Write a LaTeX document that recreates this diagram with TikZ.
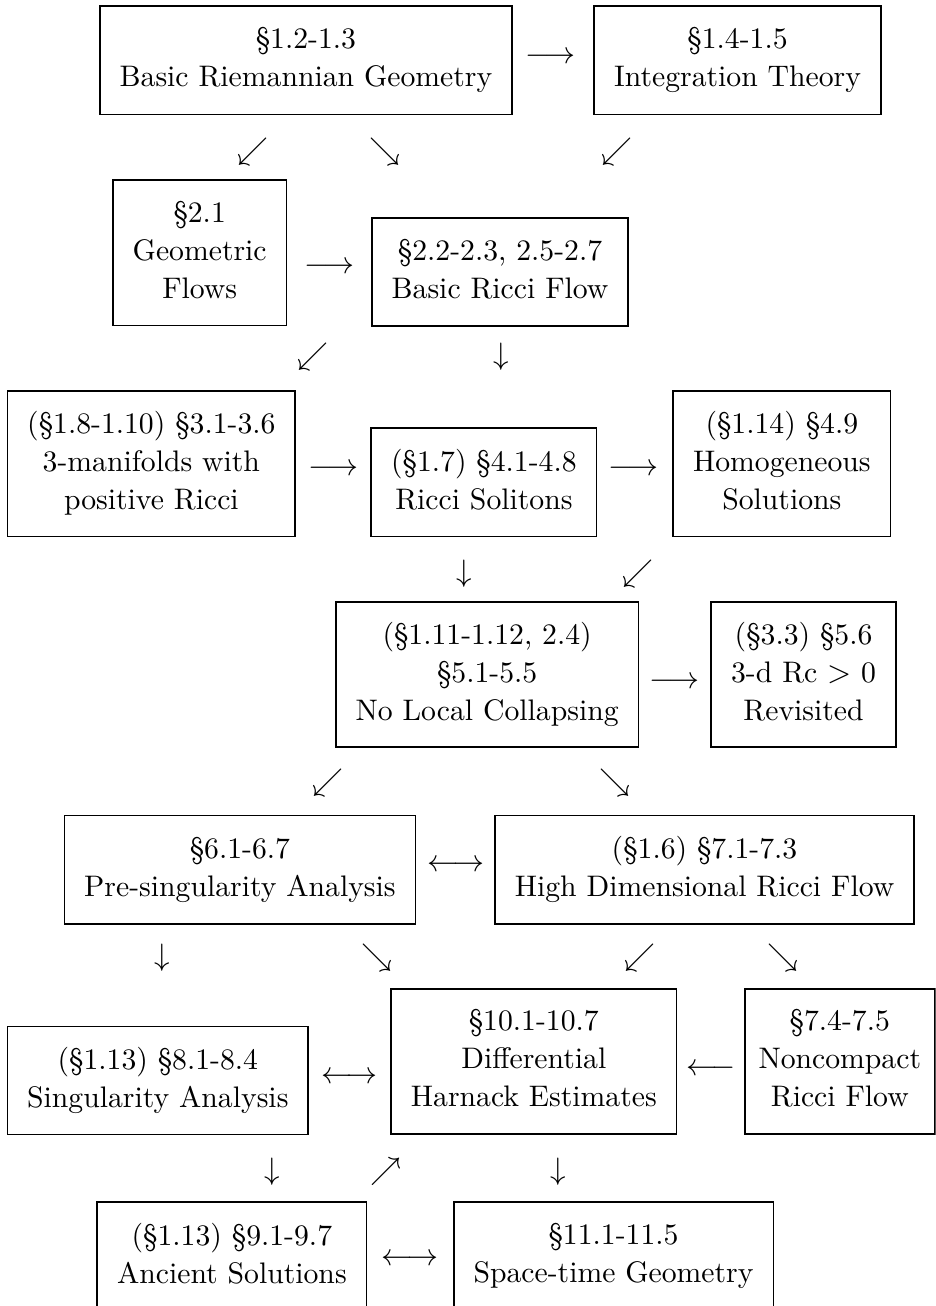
\documentclass[tikz,border=0pt]{standalone}
\usepackage{amsmath}

\tikzset{
  secbox/.style={draw, line width=0.6pt, align=center, inner xsep=7pt, inner ysep=0pt,
    font=\fontsize{10.5}{13.4}\selectfont,
    execute at begin node={\rule{0pt}{12.9pt}},
    execute at end node={\rule[-2.2pt]{0pt}{2.2pt}}},
  tworow/.style={secbox, minimum height=38.2pt},
  threerow/.style={secbox, minimum height=51.3pt},
  glyph/.style={inner sep=0pt, font=\fontsize{10.5}{12.6}\selectfont}
}

\begin{document}
\begin{tikzpicture}
        \useasboundingbox (0,0) rectangle (11.62,-16.22);
        \clip (0,0) rectangle (11.62,-16.22);

        % Draw the sections
        \node[tworow] (riem) at (3.80,-0.75) {\S1.2-1.3\\Basic Riemannian Geometry};
        \node[tworow] (integ) at (9.16,-0.75) {\S1.4-1.5\\Integration Theory};
        \node[threerow] (geoflow) at (2.48,-3.14) {\S2.1\\Geometric\\Flows};
        \node[tworow] (basicrf) at (6.21,-3.38) {\S2.2-2.3, 2.5-2.7\\Basic Ricci Flow};
        \node[threerow] (threemfd) at (1.88,-5.76) {(\S1.8-1.10) \S3.1-3.6\\3-manifolds with\\positive Ricci};
        \node[tworow] (soliton) at (6.01,-5.99) {(\S1.7) \S4.1-4.8\\Ricci Solitons};
        \node[threerow] (homog) at (9.71,-5.76) {(\S1.14) \S4.9\\Homogeneous\\Solutions};
        \node[threerow] (nlc) at (6.05,-8.38) {(\S1.11-1.12, 2.4)\\\S5.1-5.5\\No Local Collapsing};
        \node[threerow] (revisit) at (9.98,-8.38) {(\S3.3) \S5.6\\3-d Rc $>$ 0\\Revisited};
        \node[tworow] (presing) at (2.98,-10.80) {\S6.1-6.7\\Pre-singularity Analysis};
        \node[tworow] (highdim) at (8.75,-10.80) {(\S1.6) \S7.1-7.3\\High Dimensional Ricci Flow};
        \node[threerow] (harnack) at (6.63,-13.18) {\S10.1-10.7\\Differential\\Harnack Estimates};
        \node[tworow] (sing) at (1.96,-13.42) {(\S1.13) \S8.1-8.4\\Singularity Analysis};
        \node[threerow, inner xsep=4.8pt] (noncpt) at (10.43,-13.18) {\S7.4-7.5\\Noncompact\\Ricci Flow};
        \node[tworow] (ancient) at (2.88,-15.60) {(\S1.13) \S9.1-9.7\\Ancient Solutions};
        \node[tworow] (spacetime) at (7.62,-15.60) {\S11.1-11.5\\Space-time Geometry};

        % Arrows between them
        \node[glyph] (r1) at (6.84,-0.72) {$\longrightarrow$};
        \node[glyph] (d1) at (3.14,-1.89) {$\swarrow$};
        \node[glyph] (d2) at (4.78,-1.89) {$\searrow$};
        \node[glyph] (d3) at (7.66,-1.89) {$\swarrow$};
        \node[glyph] (r2) at (4.09,-3.32) {$\longrightarrow$};
        \node[glyph] (d4) at (3.89,-4.43) {$\swarrow$};
        \node[glyph] (d5) at (6.23,-4.43) {$\downarrow$};
        \node[glyph] (r3) at (4.14,-5.84) {$\longrightarrow$};
        \node[glyph] (r4) at (7.87,-5.84) {$\longrightarrow$};
        \node[glyph] (d6) at (5.76,-7.12) {$\downarrow$};
        \node[glyph] (d7) at (7.92,-7.12) {$\swarrow$};
        \node[glyph] (r5) at (8.38,-8.48) {$\longrightarrow$};
        \node[glyph] (d8) at (4.07,-9.72) {$\swarrow$};
        \node[glyph] (d9) at (7.64,-9.72) {$\searrow$};
        \node[glyph] (r6) at (5.66,-10.75) {$\longleftrightarrow$};
        \node[glyph] (d10) at (2.01,-11.90) {$\downarrow$};
        \node[glyph] (d11) at (4.68,-11.90) {$\searrow$};
        \node[glyph] (d12) at (7.95,-11.90) {$\swarrow$};
        \node[glyph] (d13) at (9.72,-11.90) {$\searrow$};
        \node[glyph] (r7) at (4.34,-13.39) {$\longleftrightarrow$};
        \node[glyph] (r8) at (8.83,-13.29) {$\longleftarrow$};
        \node[glyph] (d14) at (3.38,-14.55) {$\downarrow$};
        \node[glyph] (d15) at (4.79,-14.55) {$\nearrow$};
        \node[glyph] (d16) at (6.93,-14.55) {$\downarrow$};
        \node[glyph] (r9) at (5.09,-15.65) {$\longleftrightarrow$};
\end{tikzpicture}
\end{document}
